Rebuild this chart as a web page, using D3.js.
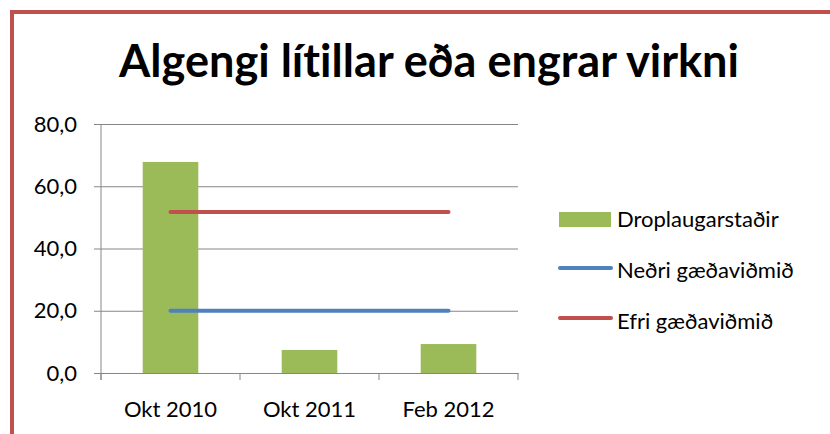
<!DOCTYPE html>
<html><head><meta charset="utf-8">
<script src="https://cdnjs.cloudflare.com/ajax/libs/d3/7.8.5/d3.min.js"></script>
<style>body{margin:0;background:#fff}svg{display:block}text{font-family:Lato,"Open Sans",sans-serif;font-variant-ligatures:none;font-feature-settings:"liga" 0,"dlig" 0}</style>
</head><body><svg id="c" width="830" height="434"></svg>
<script>
const categories = ["Okt 2010", "Okt 2011", "Feb 2012"];
const barValues = [67.8, 7.4, 9.3];
const lowerValues = [20, 20, 20];
const upperValues = [51.7, 51.7, 51.7];
const yTicks = [0, 20, 40, 60, 80];
const title = "Algengi lítillar eða engrar virkni";
const legendLabels = ["Droplaugarstaðir", "Neðri gæðaviðmið", "Efri gæðaviðmið"];
const colors = {bar: "#9BBB59", lower: "#4F81BD", upper: "#C0504D"};

const svg = d3.select("#c");
svg.append("path").attr("d", "M12,434 V12 H830").attr("fill", "none").attr("stroke", "#C0504D").attr("stroke-width", 4);

const x = d3.scaleBand().domain(categories).range([101, 518]).paddingInner(0.6).paddingOuter(0.3);
const xc = d3.scaleBand().domain(categories).range([101, 518]);
const y = d3.scaleLinear().domain([0, 80]).range([373, 124]);

svg.append("text").attr("x", 429).attr("y", 77).attr("text-anchor", "middle")
  .attr("font-size", 45).attr("font-weight", "bold").attr("fill", "#000")
  .attr("textLength", 620).attr("lengthAdjust", "spacingAndGlyphs").text(title);

const ga = svg.append("g").attr("transform", "translate(101,0)")
  .call(d3.axisLeft(y).tickValues(yTicks).tickSize(-417).tickSizeOuter(0).tickPadding(24)
    .tickFormat(d => d3.format(".1f")(d).replace(".", ",")));
ga.select(".domain").remove();
ga.selectAll(".tick line").attr("stroke", "#868686").attr("stroke-width", 1).attr("x1", -7);
ga.selectAll(".tick text").attr("font-size", 22).attr("fill", "#000").attr("font-family", "Lato,'Open Sans',sans-serif");

svg.append("line").attr("x1", 101).attr("x2", 101).attr("y1", 124).attr("y2", 380).attr("stroke", "#868686");

svg.selectAll("rect.bar").data(barValues).join("rect").attr("class", "bar")
  .attr("x", (d, i) => x(categories[i])).attr("width", x.bandwidth())
  .attr("y", d => y(d)).attr("height", d => y(0) - y(d)).attr("fill", colors.bar);

const xa = svg.append("g").attr("transform", "translate(0,373)")
  .call(d3.axisBottom(xc).tickSize(0).tickPadding(28));
xa.select(".domain").attr("stroke", "#868686");
xa.selectAll(".tick text").attr("font-size", 22).attr("fill", "#000").attr("font-family", "Lato,'Open Sans',sans-serif");
svg.selectAll("line.xt").data(d3.range(categories.length + 1)).join("line").attr("class", "xt")
  .attr("x1", i => 101 + i * xc.bandwidth()).attr("x2", i => 101 + i * xc.bandwidth())
  .attr("y1", 373).attr("y2", 380).attr("stroke", "#868686");

const line = d3.line().x((d, i) => xc(categories[i]) + xc.bandwidth() / 2).y(d => y(d));
svg.append("path").attr("d", line(lowerValues)).attr("fill", "none").attr("stroke", colors.lower).attr("stroke-width", 4).attr("stroke-linecap", "round");
svg.append("path").attr("d", line(upperValues)).attr("fill", "none").attr("stroke", colors.upper).attr("stroke-width", 4).attr("stroke-linecap", "round");

const lg = svg.append("g");
lg.append("rect").attr("x", 559).attr("y", 212).attr("width", 52).attr("height", 15).attr("fill", colors.bar);
lg.append("line").attr("x1", 560).attr("x2", 611).attr("y1", 268).attr("y2", 268).attr("stroke", colors.lower).attr("stroke-width", 4).attr("stroke-linecap", "round");
lg.append("line").attr("x1", 560).attr("x2", 611).attr("y1", 318).attr("y2", 318).attr("stroke", colors.upper).attr("stroke-width", 4).attr("stroke-linecap", "round");
lg.selectAll("text").data(legendLabels).join("text")
  .attr("x", 617).attr("y", (d, i) => 227 + i * 51).attr("font-size", 22).attr("fill", "#000").text(d => d);
</script></body></html>
